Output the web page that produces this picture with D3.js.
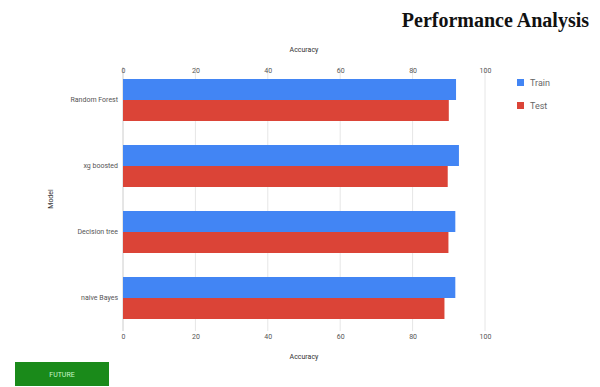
<!DOCTYPE html>
<html><head><meta charset="utf-8">
<script src="https://cdn.jsdelivr.net/npm/d3@7"></script>
<style>body{margin:0;background:#fff;}svg{display:block;}</style>
</head><body>
<svg id="chart" width="600" height="387"></svg>
<script>
const models = ["Random Forest", "xg boosted", "Decision tree", "naive Bayes"];
const trainAcc = [92.0, 92.8, 91.8, 91.8];
const testAcc = [90.0, 89.7, 89.9, 88.8];
const seriesNames = ["Train", "Test"];
const seriesColors = ["#4285f4", "#db4437"];
const xTicks = [0, 20, 40, 60, 80, 100];

const svg = d3.select("#chart");
const pLeft = 123, pRight = 485, pTop = 67, pBottom = 331;

const x = d3.scaleLinear().domain([0, 100]).range([pLeft, pRight]);
const y = d3.scaleBand().domain(models).range([pTop, pBottom]).paddingInner(24/66).paddingOuter(12/66);
const ys = d3.scaleBand().domain(seriesNames).range([0, y.bandwidth()]);

// title
svg.append("text").attr("x", 589).attr("y", 27).attr("text-anchor", "end")
  .attr("font-family", "Liberation Serif, Times New Roman, serif").attr("font-weight", "bold")
  .attr("font-size", 20).attr("fill", "#111").text("Performance Analysis");

// gridlines
svg.append("g").selectAll("line").data(xTicks).join("line")
  .attr("x1", d => x(d)).attr("x2", d => x(d)).attr("y1", pTop).attr("y2", pBottom)
  .attr("stroke", d => d === 0 ? "#ccc" : "#e6e6e6").attr("stroke-width", 1);

// axes
const fontF = "Roboto, Arial, sans-serif";
const topAxis = svg.append("g").attr("transform", `translate(0,${pTop})`)
  .call(d3.axisTop(x).tickValues(xTicks).tickSize(0).tickPadding(0));
const botAxis = svg.append("g").attr("transform", `translate(0,${pBottom})`)
  .call(d3.axisBottom(x).tickValues(xTicks).tickSize(0).tickPadding(0));
[topAxis, botAxis].forEach(g => {
  g.select(".domain").remove();
  g.selectAll("text").attr("font-family", fontF).attr("font-size", 7).attr("fill", "#555");
});
topAxis.selectAll("text").attr("dy", null).attr("y", 6);
botAxis.selectAll("text").attr("dy", null).attr("y", 7.5);

const yAxis = svg.append("g").attr("transform", `translate(${pLeft},0)`)
  .call(d3.axisLeft(y).tickSize(0).tickPadding(5));
yAxis.select(".domain").remove();
yAxis.selectAll("text").attr("font-family", fontF).attr("font-size", 7).attr("fill", "#555");

// axis titles
svg.append("text").attr("x", 304).attr("y", 52).attr("text-anchor", "middle")
  .attr("font-family", fontF).attr("font-size", 7).attr("fill", "#333").text("Accuracy");
svg.append("text").attr("x", 304).attr("y", 359).attr("text-anchor", "middle")
  .attr("font-family", fontF).attr("font-size", 7).attr("fill", "#333").text("Accuracy");
svg.append("text").attr("transform", "translate(53,199) rotate(-90)").attr("text-anchor", "middle")
  .attr("font-family", fontF).attr("font-size", 7).attr("fill", "#333").text("Model");

// bars
const rows = models.map((m, i) => ({model: m, values: [trainAcc[i], testAcc[i]]}));
const groups = svg.append("g").selectAll("g").data(rows).join("g")
  .attr("transform", d => `translate(0,${y(d.model)})`);
groups.selectAll("rect").data(d => d.values.map((v, j) => ({name: seriesNames[j], v, j}))).join("rect")
  .attr("x", x(0)).attr("y", d => ys(d.name)).attr("height", ys.bandwidth())
  .attr("width", d => x(d.v) - x(0)).attr("fill", d => seriesColors[d.j]);

// legend
const leg = svg.append("g").selectAll("g").data(seriesNames).join("g")
  .attr("transform", (d, i) => `translate(517,${79 + i * 23})`);
leg.append("rect").attr("width", 7).attr("height", 7).attr("fill", (d, i) => seriesColors[i]);
leg.append("text").attr("x", 13).attr("y", 7).attr("font-family", fontF).attr("font-size", 9)
  .attr("fill", "#666").text(d => d);

// button
svg.append("rect").attr("x", 15).attr("y", 362).attr("width", 94).attr("height", 24).attr("fill", "#1a8a1a");
svg.append("text").attr("x", 62).attr("y", 377).attr("text-anchor", "middle")
  .attr("font-family", fontF).attr("font-size", 7).attr("fill", "#c8f5c8").text("FUTURE");
</script>
</body></html>
